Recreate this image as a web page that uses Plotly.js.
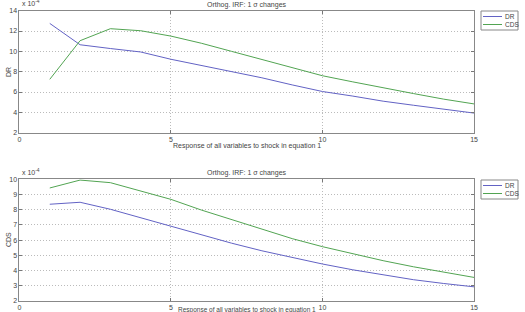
<!DOCTYPE html>
<html><head><meta charset="utf-8">
<script src="https://cdn.plot.ly/plotly-3.0.1.min.js"></script>
<style>html,body{margin:0;padding:0;background:#fff}#c{width:525px;height:312px}</style>
</head><body><div id="c"></div>
<script>
const steps = [1,2,3,4,5,6,7,8,9,10,11,12,13,14,15];
// Top panel: response of DR (units of 1e-4)
const top_DR  = [12.75,10.65,10.28,9.94,9.22,8.6,8.0,7.4,6.7,6.05,5.6,5.1,4.7,4.3,3.93];
const top_CDS = [7.25,11.05,12.23,12.03,11.5,10.8,10.0,9.2,8.4,7.6,7.0,6.4,5.85,5.3,4.83];
// Bottom panel: response of CDS (units of 1e-4)
const bot_DR  = [8.36,8.49,8.03,7.47,6.93,6.34,5.8,5.3,4.85,4.43,4.05,3.7,3.4,3.15,2.93];
const bot_CDS = [9.43,9.95,9.78,9.25,8.68,7.98,7.35,6.7,6.1,5.57,5.1,4.65,4.25,3.88,3.55];
const seriesNames = ["DR","CDS"];
const titleText = "Orthog. IRF: 1 \u03c3 changes";
const xLabel = "Response of all variables to shock in equation 1";

const blue = "#6262c4", green = "#52a452";
const colors = [blue, green];
const traces = [
  {x:steps,y:top_DR,name:seriesNames[0],mode:"lines",line:{color:blue,width:1},xaxis:"x",yaxis:"y"},
  {x:steps,y:top_CDS,name:seriesNames[1],mode:"lines",line:{color:green,width:1},xaxis:"x",yaxis:"y"},
  {x:steps,y:bot_DR,name:seriesNames[0],mode:"lines",line:{color:blue,width:1},xaxis:"x2",yaxis:"y2"},
  {x:steps,y:bot_CDS,name:seriesNames[1],mode:"lines",line:{color:green,width:1},xaxis:"x2",yaxis:"y2"}
];
const f = {family:"Liberation Sans, Arial, sans-serif",size:7,color:"#444"};
const grid = {showgrid:true,gridcolor:"#bbbbbb",griddash:"1px,2px",gridwidth:1,zeroline:false};
function xa(anchor){return Object.assign({domain:[0.0371,0.9029],anchor:anchor,range:[0,15],tickvals:[0,5,10,15],ticks:"inside",ticklen:3,tickcolor:"#777",showline:true,linecolor:"#888",linewidth:1,mirror:"ticks",tickfont:f,ticklabelstandoff:0},grid);}
function ya(anchor,dom,range,tv){return Object.assign({domain:dom,anchor:anchor,range:range,tickvals:tv,ticks:"inside",ticklen:3,tickcolor:"#777",showline:true,linecolor:"#888",linewidth:1,mirror:"ticks",tickfont:f},grid);}

// Legend boxes (MATLAB-style, drawn in paper coordinates)
const shapes = [], anns = [];
function legendBox(topPx){
  const x0=481/525, x1=518/525, y0=1-topPx/312, y1=1-(topPx+19)/312;
  shapes.push({type:"rect",xref:"paper",yref:"paper",x0:x0,x1:x1,y0:y1,y1:y0,line:{color:"#888",width:1},fillcolor:"#fff"});
  seriesNames.forEach((n,i)=>{
    const yy = 1-(topPx+5.5+i*8)/312;
    shapes.push({type:"line",xref:"paper",yref:"paper",x0:483/525,x1:502/525,y0:yy,y1:yy,line:{color:colors[i],width:1}});
    anns.push({text:n,x:503/525,y:yy,xref:"paper",yref:"paper",showarrow:false,font:{family:f.family,size:6.5,color:"#444"},xanchor:"left",yanchor:"middle"});
  });
}
legendBox(11); legendBox(180);

const layout = {
  width:525,height:312,margin:{l:0,r:0,t:0,b:0},paper_bgcolor:"#fff",plot_bgcolor:"#fff",showlegend:false,
  xaxis:xa("y"),yaxis:ya("x",[0.5747,0.9657],[2,14],[2,4,6,8,10,12,14]),
  xaxis2:xa("y2"),yaxis2:ya("x2",[0.0353,0.4253],[2,10],[2,3,4,5,6,7,8,9,10]),
  shapes:shapes,
  annotations:anns.concat([
    {text:titleText,x:0.47,y:1-5/312,xref:"paper",yref:"paper",showarrow:false,font:f,xanchor:"center",yanchor:"middle"},
    {text:titleText,x:0.47,y:1-173/312,xref:"paper",yref:"paper",showarrow:false,font:f,xanchor:"center",yanchor:"middle"},
    {text:xLabel,x:0.47,y:1-146/312,xref:"paper",yref:"paper",showarrow:false,font:f,xanchor:"center",yanchor:"middle"},
    {text:xLabel,x:0.47,y:1-309.5/312,xref:"paper",yref:"paper",showarrow:false,font:{family:f.family,size:6.5,color:"#444"},xanchor:"center",yanchor:"middle"},
    {text:"DR",x:8/525,y:1-72/312,xref:"paper",yref:"paper",showarrow:false,font:f,textangle:-90,xanchor:"center",yanchor:"middle"},
    {text:"CDS",x:8/525,y:1-240/312,xref:"paper",yref:"paper",showarrow:false,font:f,textangle:-90,xanchor:"center",yanchor:"middle"},
    {text:"x 10<sup>-4</sup>",x:20/525,y:1-9/312,xref:"paper",yref:"paper",showarrow:false,font:f,xanchor:"left",yanchor:"bottom"},
    {text:"x 10<sup>-4</sup>",x:20/525,y:1-178/312,xref:"paper",yref:"paper",showarrow:false,font:f,xanchor:"left",yanchor:"bottom"}
  ])
};
Plotly.newPlot("c",traces,layout,{staticPlot:true});
</script></body></html>
